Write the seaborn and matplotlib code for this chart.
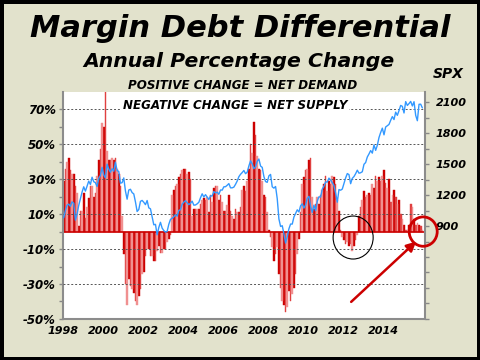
import matplotlib
matplotlib.use("Agg")
import matplotlib.pyplot as plt
import seaborn as sns
import numpy as np
import pandas as pd
from matplotlib.patches import Ellipse

sns.set_style("white")
plt.rcParams['font.family'] = ['DejaVu Sans']
plt.rcParams['text.color'] = 'black'
plt.rcParams['xtick.color'] = 'black'
plt.rcParams['ytick.color'] = 'black'

# monthly margin debt, annual % change, Jan 1998 .. Dec 2015
margin_pct = [
    29, 36, 40, 42, 35, 33, 33, 26, 22, 3, 12, 12,          # 1998
    22, 8, 14, 19, 26, 26, 20, 22, 32, 41, 47, 62,          # 1999
    60, 84, 46, 41, 41, 42, 41, 42, 36, 33, 26, 9,          # 2000
    -13, -30, -42, -27, -31, -33, -35, -40, -42, -37, -33, -24,  # 2001
    -23, -14, -10, -10, -14, -14, -17, -17, -11, -8, -12, -12,   # 2002
    -10, -10, -6, -4, -2, 21, 24, 26, 27, 31, 33, 35,       # 2003
    36, 36, 33, 34, 30, 9, 13, 13, 13, 13, 16, 18,          # 2004
    19, 18, 20, 11, 21, 17, 25, 26, 26, 18, 21, 17,         # 2005
    12, 12, 15, 21, 12, 9, 7, 13, 11, 11, 14, 24,           # 2006
    26, 23, 29, 36, 50, 45, 63, 55, 43, 36, 35, 29,         # 2007
    21, 20, 11, 1, -3, -9, -17, -13, -9, -24, -32, -40,     # 2008
    -42, -46, -43, -34, -40, -36, -32, -24, -13, -4, 11, 27,  # 2009
    31, 35, 36, 41, 42, 20, 13, 16, 20, 16, 21, 24,         # 2010
    27, 32, 23, 29, 27, 32, 31, 27, 18, 12, 1, -3,          # 2011
    -5, -7, -6, -8, -7, -11, -8, -5, -2, 9, 14, 18,         # 2012
    23, 20, 21, 22, 21, 27, 25, 32, 29, 31, 29, 32,         # 2013
    35, 28, 25, 30, 17, 21, 24, 20, 16, 18, 10, 7,          # 2014
    4, 1, 1, 4, 16, 14, 7, 4, 5, 4, 3, 1,                   # 2015
]

# S&P 500 monthly close, same months
spx = [
    980, 1049, 1102, 1112, 1091, 1134, 1121, 957, 1017, 1099, 1164, 1229,
    1280, 1238, 1286, 1335, 1302, 1373, 1329, 1320, 1283, 1363, 1389, 1469,
    1394, 1366, 1499, 1452, 1421, 1455, 1431, 1518, 1437, 1429, 1315, 1320,
    1366, 1240, 1160, 1249, 1256, 1224, 1211, 1134, 1041, 1060, 1139, 1148,
    1130, 1107, 1147, 1076, 1067, 990, 912, 916, 815, 886, 936, 880,
    856, 841, 848, 917, 964, 975, 990, 1008, 996, 1051, 1058, 1112,
    1131, 1145, 1126, 1107, 1121, 1141, 1102, 1104, 1115, 1130, 1174, 1212,
    1181, 1204, 1181, 1157, 1192, 1191, 1234, 1220, 1229, 1207, 1249, 1248,
    1280, 1281, 1295, 1311, 1270, 1270, 1277, 1304, 1336, 1378, 1401, 1418,
    1438, 1407, 1421, 1482, 1531, 1503, 1455, 1474, 1527, 1549, 1481, 1468,
    1379, 1331, 1323, 1386, 1400, 1280, 1267, 1283, 1165, 969, 896, 903,
    826, 735, 798, 873, 919, 919, 987, 1021, 1057, 1036, 1096, 1115,
    1074, 1104, 1169, 1187, 1089, 1031, 1102, 1049, 1141, 1183, 1181, 1258,
    1286, 1327, 1326, 1364, 1345, 1321, 1292, 1219, 1131, 1253, 1247, 1258,
    1312, 1366, 1408, 1398, 1310, 1362, 1379, 1407, 1441, 1412, 1416, 1426,
    1498, 1515, 1569, 1598, 1631, 1606, 1686, 1633, 1682, 1757, 1806, 1848,
    1783, 1859, 1872, 1884, 1924, 1960, 1931, 2003, 1972, 2018, 2068, 2059,
    1995, 2105, 2068, 2086, 2107, 2063, 2104, 1972, 1920, 2079, 2080, 2044,
]

start_year = 1998
year_ticks = [1998, 2000, 2002, 2004, 2006, 2008, 2010, 2012, 2014]
pct_ticks = [70, 50, 30, 10, -10, -30, -50]
spx_ticks = [900, 1200, 1500, 1800, 2100]
bar_colors = ['#cc0000', '#e04040', '#f09090']
bg = '#e2e2cc'

months = np.arange(len(margin_pct))
df = pd.DataFrame({
    'date': start_year + (months + 0.5) / 12.0,
    'pct': margin_pct,
    'spx': spx,
    'shade': months % 3,
})

fig = plt.figure(figsize=(4.8, 3.6), dpi=100)
fig.patch.set_facecolor(bg)
fig.patch.set_edgecolor('black')
fig.patch.set_linewidth(5)

ax = fig.add_axes([0.131, 0.114, 0.754, 0.631])
ax.set_facecolor('white')

sns.barplot(data=df, x='date', y='pct', hue='shade', palette=bar_colors,
            native_scale=True, dodge=False, width=1.0, errorbar=None,
            legend=False, saturation=1, linewidth=0, ax=ax)
# thin bars: give each an outline in its own colour so none vanish
for p in ax.patches:
    p.set_edgecolor(p.get_facecolor())
    p.set_linewidth(0.3)
ax.axhline(0, color='#cc0000', lw=1.2, zorder=2.5)
for t in pct_ticks[:-1]:
    ax.axhline(t, color='#555555', lw=0.7, ls=(0, (2, 2)), zorder=3)

ax.set_xlim(1998.0, 2016.08)
ax.set_ylim(-50, 80)
ax.set_xticks(year_ticks)
ax.set_xticklabels([str(y) for y in year_ticks], fontsize=8,
                   fontweight='bold', fontstyle='italic')
ax.set_yticks(pct_ticks)
ax.set_yticklabels([f'{t}%' for t in pct_ticks], fontsize=8.5,
                   fontweight='bold', fontstyle='italic')
ax.set_yticks([60, 40, 20, 0, -20, -40], minor=True)
ax.tick_params(axis='x', length=0, pad=5)
ax.tick_params(axis='y', which='both', direction='out', length=3,
               width=1, color='#888888', pad=2, left=True)
ax.set_xlabel('')
ax.set_ylabel('')
for side in ['left', 'bottom']:
    ax.spines[side].set_color('#8c8c8c')
    ax.spines[side].set_linewidth(1.5)
ax.spines['top'].set_visible(False)
ax.spines['right'].set_visible(False)

ax2 = ax.twinx()
sns.lineplot(data=df, x='date', y='spx', color='#3399ff', lw=1, ax=ax2)
ax2.set_ylim(0, 2200)
ax2.set_xlim(1998.0, 2016.08)
ax2.set_yticks(spx_ticks)
ax2.set_yticklabels([str(t) for t in spx_ticks], fontsize=8,
                    fontweight='bold', fontstyle='italic')
ax2.set_yticks(np.arange(0, 2101, 150), minor=True)
ax2.tick_params(axis='y', which='both', direction='out', length=3,
                width=1, color='#888888', pad=5, right=True)
ax2.set_ylabel('')
for side in ['left', 'top', 'bottom']:
    ax2.spines[side].set_visible(False)
ax2.spines['right'].set_color('#8c8c8c')
ax2.spines['right'].set_linewidth(1.5)

# annotations: circles and arrow (drawn on top via ax2 in left-axis coords)
to_ax2 = ax.transData
ax2.add_patch(Ellipse((2012.5, -3.4), width=2.0, height=24.6, fill=False,
                      ec='black', lw=0.8, clip_on=False, zorder=5,
                      transform=to_ax2))
ax2.add_patch(Ellipse((2016.0, 0), width=1.4, height=16.8, fill=False,
                      ec='#cc0000', lw=2, clip_on=False, zorder=5,
                      transform=to_ax2))
ax2.annotate('', xy=(2015.75, -4.6), xytext=(2012.3, -41.3),
             xycoords=to_ax2, textcoords=to_ax2,
             arrowprops=dict(arrowstyle='-|>', color='#cc0000', lw=1.8,
                             mutation_scale=14),
             annotation_clip=False, zorder=6)

fig.text(0.5, 1 - 37 / 360, 'Margin Debt Differential', ha='center',
         va='baseline', fontsize=22, fontweight='bold', fontstyle='italic')
fig.text(238.5 / 480, 1 - 67 / 360, 'Annual Percentage Change', ha='center',
         va='baseline', fontsize=14.7, fontweight='bold', fontstyle='italic')
fig.text(448 / 480, 1 - 78 / 360, 'SPX', ha='center', va='baseline',
         fontsize=10, fontweight='bold', fontstyle='italic')
fig.text(242.5 / 480, 1 - 89 / 360, 'POSITIVE CHANGE = NET DEMAND',
         ha='center', va='baseline', fontsize=8.6, fontweight='bold',
         fontstyle='italic')
fig.text(235 / 480, 1 - 109 / 360, 'NEGATIVE CHANGE = NET SUPPLY',
         ha='center', va='baseline', fontsize=8.6, fontweight='bold',
         fontstyle='italic', zorder=10,
         bbox=dict(facecolor='white', edgecolor='none', pad=1))

fig.savefig('out.png', dpi=100)
